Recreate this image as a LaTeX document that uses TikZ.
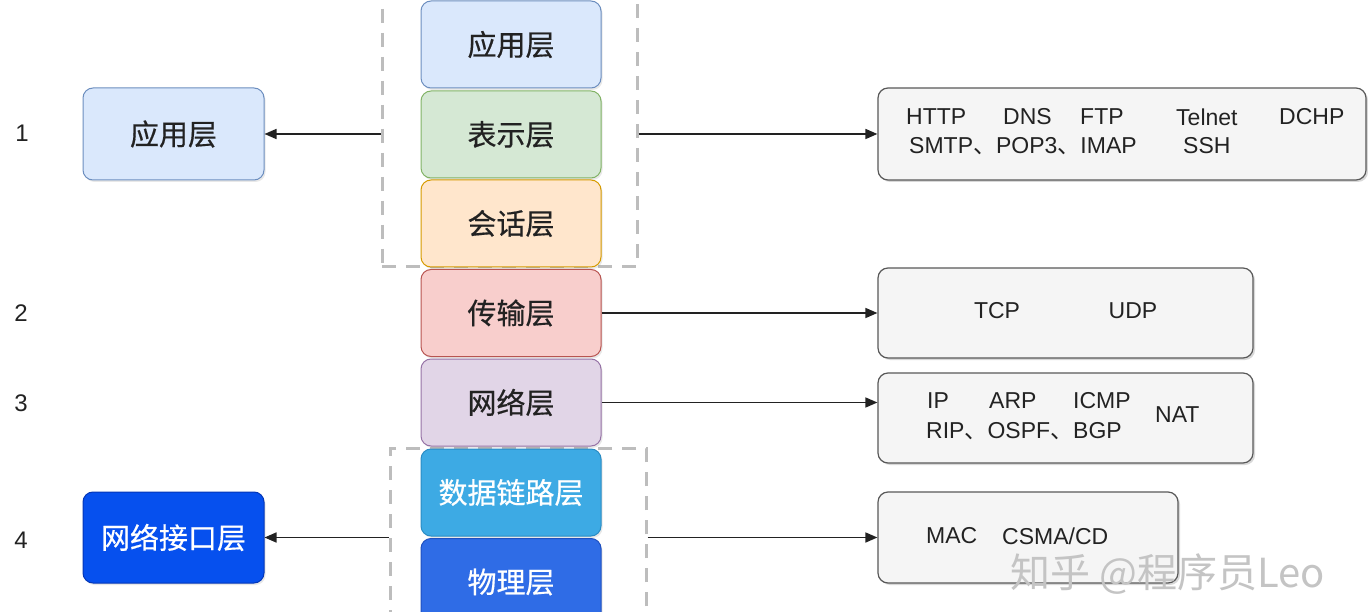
\documentclass[tikz,border=0pt]{standalone}
\usepackage{fontspec}
\setmainfont{Liberation Sans}
\newfontfamily\cjk[FakeBold=0.5]{Noto Sans CJK SC}
\newfontfamily\cjkwm{Noto Sans CJK SC}
\usetikzlibrary{arrows.meta,shadows}
\definecolor{txt}{HTML}{222222}
\definecolor{dashgray}{HTML}{BDBDBD}
\definecolor{appF}{HTML}{DAE8FC}\definecolor{appD}{HTML}{6C8EBF}
\definecolor{preF}{HTML}{D5E8D4}\definecolor{preD}{HTML}{82B366}
\definecolor{sesF}{HTML}{FFE6CC}\definecolor{sesD}{HTML}{D79B00}
\definecolor{traF}{HTML}{F8CECC}\definecolor{traD}{HTML}{B85450}
\definecolor{netF}{HTML}{E1D5E7}\definecolor{netD}{HTML}{9673A6}
\definecolor{dlkF}{HTML}{3DAAE4}\definecolor{dlkD}{HTML}{2A8CC4}
\definecolor{phyF}{HTML}{2F6CE6}\definecolor{phyD}{HTML}{1F50C0}
\definecolor{ifF}{HTML}{0650EE}\definecolor{ifD}{HTML}{0437B8}
\definecolor{wm}{HTML}{C4C4C4}
\tikzset{
  layer/.style={draw, rounded corners=10pt, minimum width=180pt, minimum height=87pt,
    inner sep=0pt, line width=1pt, text=txt, font=\cjk\fontsize{29}{32}\selectfont,
    drop shadow={opacity=0.18, shadow xshift=1.5pt, shadow yshift=-2pt}},
  protobox/.style={draw=black!65, fill=black!4, rounded corners=10pt, line width=1.2pt,
    inner sep=0pt, drop shadow={opacity=0.3, shadow xshift=2pt, shadow yshift=-2pt}},
  proto/.style={anchor=west, inner sep=0pt, text=txt, font=\fontsize{23}{26}\selectfont},
  protoc/.style={inner sep=0pt, text=txt, font=\fontsize{23}{26}\selectfont},
  num/.style={inner sep=0pt, text=txt, font=\fontsize{24}{26}\selectfont},
  dashbox/.style={draw=dashgray, line width=3pt, dash pattern=on 14pt off 10pt, inner sep=0pt},
  arr/.style={draw=txt, line width=1.6pt, -{Triangle[length=12pt,width=10pt]}}
}
\begin{document}
\begin{tikzpicture}[x=1pt,y=-1pt]
\path[use as bounding box, clip] (0,0) rectangle (1368,612);
\fill[white] (0,0) rectangle (1368,612);

% dashed groups
\node[dashbox, minimum width=255pt, minimum height=282pt] (g1) at (509.5,126) {};
\node[dashbox, minimum width=256pt, minimum height=190pt] (g2) at (518,543) {};

% central stack
\node[layer, fill=appF, draw=appD] (app) at (511,44.5) {应用层};
\node[layer, fill=preF, draw=preD] (pre) at (511,134.5) {表示层};
\node[layer, fill=sesF, draw=sesD] (ses) at (511,223.5) {会话层};
\node[layer, fill=traF, draw=traD] (tra) at (511,313) {传输层};
\node[layer, fill=netF, draw=netD] (net) at (511,402.5) {网络层};
\node[layer, fill=dlkF, draw=dlkD, text=white] (dlk) at (511,492.5) {数据链路层};
\node[layer, fill=phyF, draw=phyD, text=white] (phy) at (511,582) {物理层};

% left boxes
\node[layer, fill=appF, draw=appD, minimum width=181pt, minimum height=92pt] (lapp) at (173.5,134) {应用层};
\node[layer, fill=ifF, draw=ifD, text=white, minimum width=181pt, minimum height=91pt] (lif) at (173.5,537.5) {网络接口层};

% numbers
\node[num] (n1) at (22,133) {1};
\node[num] (n2) at (21,313) {2};
\node[num] (n3) at (21,403) {3};
\node[num] (n4) at (21,540) {4};

% right boxes
\node[protobox, minimum width=488pt, minimum height=92pt] (r1) at (1122,134) {};
\node[protobox, minimum width=375pt, minimum height=90pt] (r2) at (1065.5,313) {};
\node[protobox, minimum width=375pt, minimum height=90pt] (r3) at (1065.5,418) {};
\node[protobox, minimum width=300pt, minimum height=91pt] (r4) at (1028,537.5) {};

% protocol texts
\node[proto] (t1a) at (906,117) {HTTP};
\node[proto] (t1b) at (1003,117) {DNS};
\node[proto] (t1c) at (1080,117) {FTP};
\node[proto] (t1d) at (1176,117) {Telnet};
\node[proto] (t1e) at (1279,117) {DCHP};
\node[proto] (t1f) at (909,146) {SMTP{\cjkwm 、}POP3{\cjkwm 、}IMAP};
\node[proto] (t1g) at (1183,146) {SSH};

\node[protoc] (t2a) at (997,311) {TCP};
\node[protoc] (t2b) at (1133,311) {UDP};

\node[proto] (t3a) at (927,401) {IP};
\node[proto] (t3b) at (989,401) {ARP};
\node[proto] (t3c) at (1073,401) {ICMP};
\node[proto] (t3d) at (926,431) {RIP{\cjkwm 、}OSPF{\cjkwm 、}BGP};
\node[proto] (t3e) at (1155,415) {NAT};

\node[proto] (t4a) at (926,536) {MAC};
\node[proto] (t4b) at (1002,536) {CSMA/CD};

% connectors
\draw[arr] (g1.west |- lapp.east) -- (lapp.east);
\draw[arr] (g1.east |- r1.west) -- (r1.west);
\draw[arr] (tra.east) -- (tra.east -| r2.west);
\draw[arr] (net.east) -- (net.east -| r3.west);
\draw[arr] (g2.west |- lif.east) -- (lif.east);
\draw[arr] (g2.east |- r4.west) -- (r4.west);

% watermark
\node[inner sep=0pt, anchor=west, text=wm, font=\cjkwm\fontsize{40}{44}\selectfont] (wmk) at (1010,574) {知乎 @程序员Leo};
\end{tikzpicture}
\end{document}
